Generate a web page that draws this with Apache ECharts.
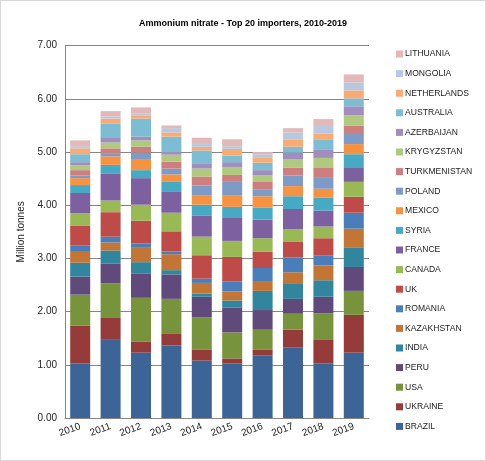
<!DOCTYPE html>
<html>
<head>
<meta charset="utf-8">
<script src="https://cdn.jsdelivr.net/npm/echarts@6/dist/echarts.min.js"></script>
<style>
  html, body { margin: 0; padding: 0; background: #fff; }
  #main { width: 486px; height: 461px; box-sizing: border-box; border: 1px solid #d9d9d9; }
</style>
</head>
<body>
<div id="main"></div>
<script>
// 年份
const years = ['2010', '2011', '2012', '2013', '2014', '2015', '2016', '2017', '2018', '2019'];

// 各國進口量 (百萬噸), 由下而上堆疊
const brazil       = [1.03, 1.47, 1.23, 1.36, 1.08, 1.03, 1.18, 1.33, 1.03, 1.23];
const ukraine      = [0.71, 0.41, 0.21, 0.22, 0.21, 0.09, 0.11, 0.33, 0.45, 0.71];
const usa          = [0.58, 0.65, 0.82, 0.66, 0.60, 0.49, 0.37, 0.30, 0.49, 0.45];
const peru         = [0.34, 0.37, 0.46, 0.46, 0.39, 0.47, 0.37, 0.28, 0.31, 0.45];
const india        = [0.26, 0.25, 0.21, 0.08, 0.06, 0.13, 0.36, 0.28, 0.31, 0.37];
const kazakhstan   = [0.22, 0.15, 0.27, 0.30, 0.20, 0.17, 0.17, 0.22, 0.28, 0.35];
const romania      = [0.10, 0.11, 0.08, 0.05, 0.08, 0.19, 0.26, 0.28, 0.19, 0.30];
const uk           = [0.38, 0.46, 0.43, 0.38, 0.44, 0.46, 0.31, 0.30, 0.32, 0.30];
const canada       = [0.23, 0.22, 0.30, 0.35, 0.35, 0.30, 0.25, 0.23, 0.22, 0.28];
const france       = [0.38, 0.50, 0.50, 0.39, 0.40, 0.43, 0.35, 0.38, 0.30, 0.26];
const syria        = [0.15, 0.17, 0.15, 0.19, 0.20, 0.21, 0.23, 0.24, 0.24, 0.26];
const mexico       = [0.13, 0.16, 0.21, 0.14, 0.18, 0.21, 0.21, 0.19, 0.17, 0.19];
const poland       = [0.05, 0.06, 0.12, 0.11, 0.18, 0.26, 0.13, 0.20, 0.22, 0.19];
const turkmenistan = [0.10, 0.09, 0.11, 0.13, 0.17, 0.13, 0.15, 0.15, 0.17, 0.16];
const krygyzstan   = [0.09, 0.11, 0.12, 0.13, 0.15, 0.15, 0.11, 0.15, 0.19, 0.19];
const azerbaijan   = [0.06, 0.10, 0.07, 0.05, 0.10, 0.09, 0.10, 0.13, 0.15, 0.17];
const australia    = [0.15, 0.26, 0.34, 0.29, 0.24, 0.12, 0.14, 0.11, 0.20, 0.15];
const netherlands  = [0.11, 0.09, 0.06, 0.08, 0.07, 0.13, 0.09, 0.13, 0.11, 0.15];
const mongolia     = [0.04, 0.04, 0.04, 0.08, 0.07, 0.05, 0.07, 0.14, 0.14, 0.15];
const lithuania    = [0.11, 0.10, 0.11, 0.05, 0.10, 0.13, 0.04, 0.08, 0.13, 0.15];

// 國名 (堆疊順序)
const countries = ['BRAZIL', 'UKRAINE', 'USA', 'PERU', 'INDIA', 'KAZAKHSTAN', 'ROMANIA', 'UK',
  'CANADA', 'FRANCE', 'SYRIA', 'MEXICO', 'POLAND', 'TURKMENISTAN', 'KRYGYZSTAN', 'AZERBAIJAN',
  'AUSTRALIA', 'NETHERLANDS', 'MONGOLIA', 'LITHUANIA'];
const values = [brazil, ukraine, usa, peru, india, kazakhstan, romania, uk, canada, france,
  syria, mexico, poland, turkmenistan, krygyzstan, azerbaijan, australia, netherlands, mongolia, lithuania];

const colors = ['#3C6497', '#953B39', '#77933C', '#604A7B', '#31859C', '#C27535',
  '#4A7EBB', '#BE4B48', '#98B954', '#7D60A0', '#46AAC5', '#F69240',
  '#7E9BC8', '#CE7E7C', '#AFC97E', '#A08FBD', '#7CBDD3', '#F9AB74',
  '#B9C8E1', '#E2B9B8'];

const myChart = echarts.init(document.getElementById('main'));
const font = "'Liberation Sans', Arial, sans-serif";

const option = {
    animation: false,
    color: colors,
    title: {
        text: 'Ammonium nitrate - Top 20 importers, 2010-2019',
        left: 'center',
        top: 13,
        textStyle: { fontFamily: font, fontSize: 9, fontWeight: 'bold', color: '#000' }
    },
    legend: {
        orient: 'vertical',
        left: 390,
        top: 42,
        itemWidth: 7,
        itemHeight: 7,
        itemGap: 7.6,
        icon: 'rect',
        data: countries.slice().reverse(),
        textStyle: { fontFamily: font, fontSize: 8.6, color: '#222', lineHeight: 12, padding: [0, 0, 0, -3] }
    },
    grid: { left: 64, right: 116, top: 44.7, bottom: 42 },
    xAxis: {
        type: 'category',
        data: years,
        axisLine: { lineStyle: { color: '#868686' } },
        axisTick: { show: false },
        axisLabel: { interval: 0, rotate: 20, fontFamily: font, fontSize: 10, color: '#222', margin: 8 }
    },
    yAxis: {
        type: 'value',
        min: 0,
        max: 7,
        interval: 1,
        name: 'Million tonnes',
        nameLocation: 'middle',
        nameGap: 37,
        nameTextStyle: { fontFamily: font, fontSize: 10, color: '#222' },
        axisLine: { show: true, lineStyle: { color: '#868686' } },
        axisTick: { show: false },
        splitLine: { lineStyle: { color: '#868686' } },
        axisLabel: {
            fontFamily: font, fontSize: 10, color: '#222', margin: 8,
            formatter: v => v.toFixed(2)
        }
    },
    series: countries.map((name, i) => ({
        name: name,
        type: 'bar',
        stack: 'total',
        barWidth: 20,
        data: values[i]
    }))
};

myChart.setOption(option);
</script>
</body>
</html>
